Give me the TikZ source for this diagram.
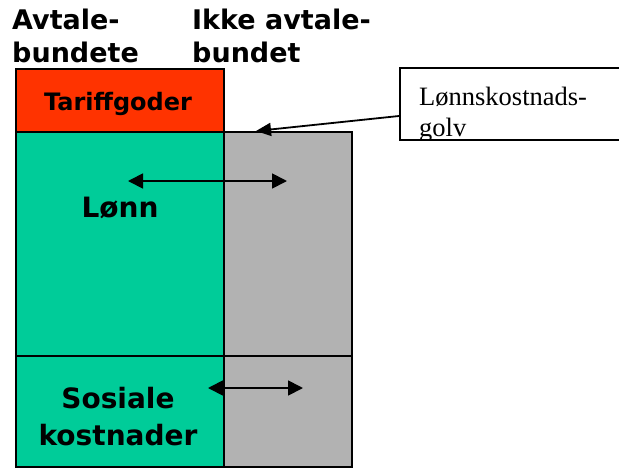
\documentclass[tikz,border=0pt]{standalone}
\usepackage{fontspec}
\setmainfont{Liberation Serif}
\setsansfont{DejaVu Sans}
\usetikzlibrary{arrows.meta}

\definecolor{tariffred}{RGB}{255,51,0}
\definecolor{avtalegreen}{RGB}{0,204,153}
\definecolor{ikkegray}{RGB}{178,178,178}

\begin{document}
\begin{tikzpicture}[x=1pt,y=-1pt,
redbox/.style={rectangle, draw=black, fill=tariffred, line width=2pt, inner sep=0pt, minimum width=208pt},
greenbox/.style={rectangle, draw=black, fill=avtalegreen, line width=2pt, inner sep=0pt, minimum width=208pt},
graybox/.style={rectangle, draw=black, fill=ikkegray, line width=2pt, inner sep=0pt, minimum width=128pt},
headtext/.style={font=\sffamily\bfseries\fontsize{27}{33}\selectfont, align=left, inner sep=0pt, anchor=base west},
boxtext/.style={font=\sffamily\bfseries\fontsize{28}{37}\selectfont, align=center, inner sep=0pt},
both arrow/.style={{Triangle[length=15pt,width=15pt]}-{Triangle[length=15pt,width=15pt]}, line width=1.8pt}
]
\clip (0,0) rectangle (619,469);
\useasboundingbox (0,0) rectangle (619,469);

%Nodes
\node[headtext] at (12,62) (AB) {Avtale-\\bundete};
\node[headtext] at (192,62) (IAB) {Ikke avtale-\\bundet};

\node[redbox, minimum height=63pt] at (120,100.5) (TG) {};
\node[font=\sffamily\bfseries\fontsize{24}{28}\selectfont, inner sep=0pt, anchor=base] at (118,110) (TGtext) {Tariffgoder};

\node[greenbox, minimum height=224pt] at (120,244) (LG) {};
\node[graybox, minimum height=224pt] at (288,244) (LI) {};
\node[greenbox, minimum height=111pt] at (120,411.5) (SG) {};
\node[graybox, minimum height=111pt] at (288,411.5) (SI) {};

\node[boxtext, anchor=base] at (120,217) (Lonn) {Lønn};
\node[boxtext, anchor=base] at (118,408) (Sos) {Sosiale};
\node[boxtext, anchor=base] at (118,445) (Kost) {kostnader};

\node[rectangle, draw=black, fill=white, line width=2pt, inner sep=0pt, minimum width=260pt, minimum height=72pt] at (530,104) (CB) {};
\begin{scope}
\clip (401,69) rectangle (619,139);
\node[font=\fontsize{26.5}{31}\selectfont, align=left, inner sep=0pt, anchor=base west] at (419,136) (CBtext) {Lønnskostnads-\\golv};
\end{scope}

\coordinate (L1) at (128,181);
\coordinate (R1) at (287,181);
\coordinate (L2) at (208,388);
\coordinate (R2) at (303,388);
\coordinate (golv) at (256,131);

%Lines
\draw[both arrow] (L1) -- (R1);
\draw[both arrow] (L2) -- (R2);
\draw[-{Triangle[length=15pt,width=13pt]}, line width=1.8pt] ([yshift=-12pt]CB.west) -- (golv);

\end{tikzpicture}
\end{document}
